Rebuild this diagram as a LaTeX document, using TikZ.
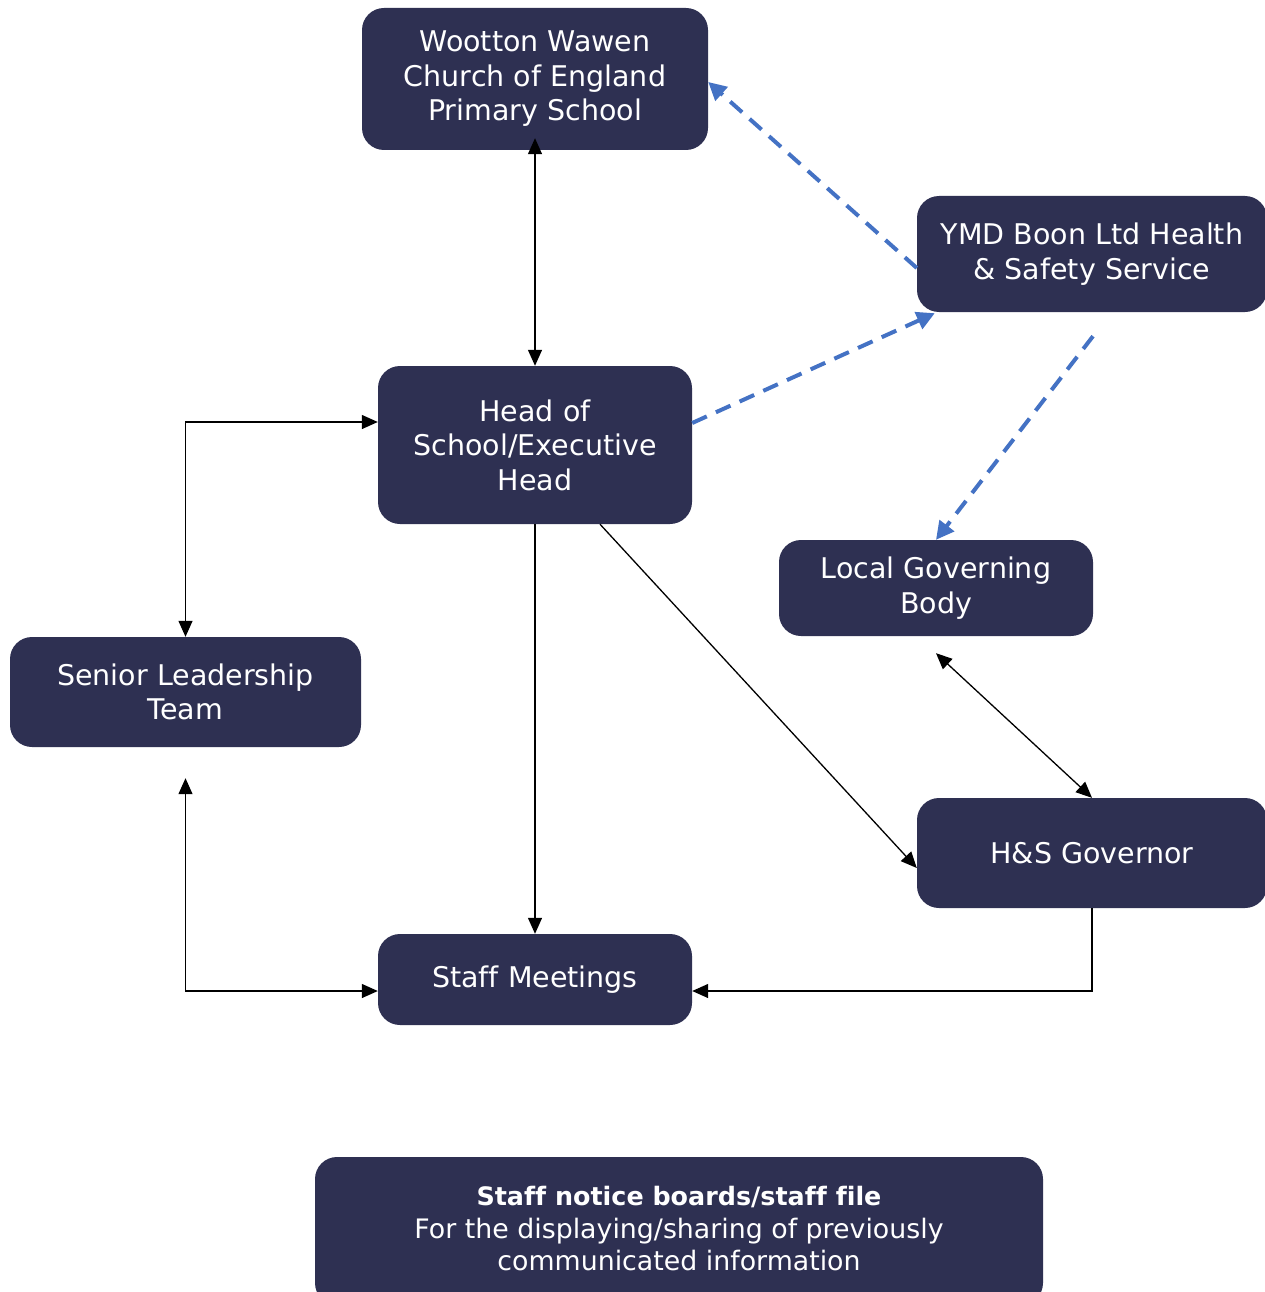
\documentclass[tikz,border=0pt]{standalone}
\usepackage{fontspec}
\setmainfont{DejaVu Sans}[Ligatures=NoCommon]
\usetikzlibrary{arrows.meta,calc}
\definecolor{boxfill}{RGB}{46,48,82}
\definecolor{dashblue}{RGB}{68,114,196}
\begin{document}
\begin{tikzpicture}[x=1pt,y=-1pt,
  box/.style={draw=none, fill=boxfill, rounded corners=22pt, text=white, align=center,
    font=\fontsize{28.5}{34.5}\selectfont, inner sep=0pt},
  notebox/.style={box, font=\fontsize{26.8}{32.5}\selectfont},
  notetxt/.style={text=white, align=center, inner sep=0pt, font=\fontsize{26.8}{32.5}\selectfont},
  link/.style={draw=black, line width=1.3pt, -{Triangle[length=16pt,width=14pt]}},
  twolink/.style={link, {Triangle[length=16pt,width=14pt]}-{Triangle[length=16pt,width=14pt]}},
  dlink/.style={draw=dashblue, line width=4pt, dash pattern=on 16pt off 10pt,
    -{Triangle[length=18pt,width=18pt]}}]
\clip (0,0) rectangle (1265,1292);
\node[box, minimum width=346pt, minimum height=142pt] (woot) at (535,79)
  {Wootton Wawen\\Church of England\\Primary School};
\node[box, minimum width=350pt, minimum height=116pt] (ymd) at (1092,254)
  {YMD Boon Ltd Health\\\& Safety Service};
\node[box, minimum width=314pt, minimum height=158pt] (head) at (535,445)
  {Head of\\School/Executive\\Head};
\node[box, minimum width=314pt, minimum height=96pt] (lgb) at (936,588)
  {Local Governing\\Body};
\node[box, minimum width=351pt, minimum height=110pt] (slt) at (185.5,692)
  {Senior Leadership\\Team};
\node[box, minimum width=350pt, minimum height=110pt] (hs) at (1092,853)
  {H\&S Governor};
\node[box, minimum width=314pt, minimum height=91pt] (staff) at (535,979.5)
  {Staff Meetings};
\node[notebox, minimum width=728pt, minimum height=148pt] (notes) at (679,1231)
  {};
\node[notetxt] (notetext) at (679,1229)
  {{\fontsize{25.4}{32.5}\selectfont\bfseries Staff notice boards/staff file}\\For the displaying/sharing of previously\\communicated information};
% coordinates
\coordinate (slttop) at (slt.north);
\coordinate (sltbot) at ($(slt.south)+(0,31)$);
\coordinate (headin) at ($(head.west)+(0,-23)$);
\coordinate (staffin) at ($(staff.west)+(0,11.5)$);
\coordinate (staffin2) at ($(staff.east)+(0,11.5)$);
\coordinate (woottip) at ($(woot.south)+(0,-12)$);
\coordinate (headout) at ($(head.south)+(65,0)$);
\coordinate (hsin) at ($(hs.west)+(0,15)$);
\coordinate (lgbtip) at ($(lgb.south)+(0,17)$);
% black connectors
\draw[twolink] (woottip) -- (head.north);
\draw[twolink] (slttop) |- (headin);
\draw[twolink] (sltbot) |- (staffin);
\draw[link] (head.south) -- (staff.north);
\draw[link] (headout) -- (hsin);
\draw[twolink] (lgbtip) -- (hs.north);
\draw[link] (hs.south) |- (staffin2);
% dashed blue connectors
\coordinate (ymdw) at ($(ymd.west)+(0,14)$);
\coordinate (wootin) at ($(woot.east)+(0,3)$);
\coordinate (heade) at ($(head.east)+(0,-22)$);
\coordinate (ymdin) at ($(ymd.south west)+(18,1)$);
\coordinate (ymdout) at ($(ymd.south)+(1,24)$);
\draw[dlink] (ymdw) -- (wootin);
\draw[dlink] (heade) -- (ymdin);
\draw[dlink] (ymdout) -- (lgb.north);
\end{tikzpicture}
\end{document}
